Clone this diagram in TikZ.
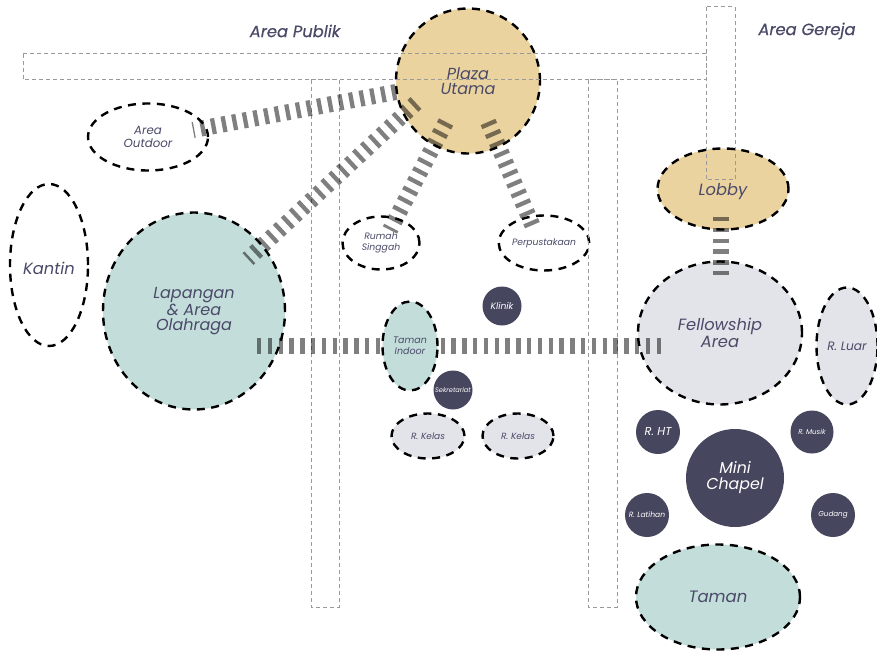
\documentclass[tikz,border=0pt]{standalone}
\usepackage{fontspec}
\setmainfont{Poppins}
\newfontfamily\titlefont{Poppins}[FakeBold=0.5]
\usetikzlibrary{shapes.geometric}
\definecolor{tanf}{HTML}{EBD3A0}
\definecolor{mint}{HTML}{C3DDDA}
\definecolor{lgray}{HTML}{E3E3EA}
\definecolor{navy}{HTML}{46465E}
\definecolor{txt}{HTML}{4A4A68}
\definecolor{rectgray}{HTML}{9A9A9A}
\tikzset{
  room/.style={ellipse, draw=black, line width=2.4pt, dash pattern=on 8pt off 6.5pt,
    inner sep=0pt, text=txt, align=center},
  darkroom/.style={circle, fill=navy, inner sep=0pt, text=white, align=center},
  zone/.style={draw=rectgray, line width=1pt, dash pattern=on 4pt off 3pt},
  conn/.style={draw=black, draw opacity=0.5, line width=16pt, dash pattern=on 4.3pt off 6.5pt},
  fs/.style 2 args={font=\fontsize{#1}{#2}\selectfont\itshape}
}
\begin{document}
\begin{tikzpicture}[x=1pt,y=-1pt]
\useasboundingbox (0,0) rectangle (877,652);
\fill[white] (0,0) rectangle (877,652);

% titles
\node[text=txt, font=\titlefont\fontsize{16.3}{17}\selectfont\itshape] (publik) at (295,31) {Area Publik};
\node[text=txt, font=\titlefont\fontsize{16.3}{17}\selectfont\itshape] (gereja) at (807,31) {Area Gereja};

% rooms (filled)
\node[room, fill=tanf, minimum width=144pt, minimum height=145pt, fs={16}{15}] (plaza) at (468,81) {Plaza\\Utama};
\node[room, minimum width=120pt, minimum height=67pt, fs={11.8}{13.5}] (outdoor) at (148,137) {Area\\Outdoor};
\node[room, minimum width=78pt, minimum height=162pt, fs={16.3}{17}, text height=18pt, text depth=0pt] (kantin) at (49,265) {Kantin};
\node[room, fill=mint, minimum width=182pt, minimum height=197pt, fs={16}{15}] (lapangan) at (194,311) {Lapangan\\\& Area\\Olahraga};
\node[room, minimum width=77pt, minimum height=53pt, fs={9.3}{11}] (rumah) at (381,243) {Rumah\\Singgah};
\node[room, minimum width=78pt, minimum height=55pt, fs={9.2}{11}] (perpus) at (544,243) {Perpustakaan};
\node[darkroom, minimum size=39pt, fs={9.2}{10}] (klinik) at (502,306) {Klinik};
\node[darkroom, minimum size=39pt, fs={6.6}{7}] (sekre) at (453,390) {Sekretariat};
\node[room, fill=lgray, minimum width=73pt, minimum height=45pt, fs={9}{10}] (kelas1) at (428,436) {R. Kelas};
\node[room, fill=lgray, minimum width=71pt, minimum height=45pt, fs={9}{10}] (kelas2) at (518,436) {R. Kelas};

\node[room, fill=tanf, minimum width=131pt, minimum height=81pt, fs={16.3}{17}, text height=18pt, text depth=4pt] (lobby) at (723,189) {Lobby};
\node[room, fill=lgray, minimum width=164pt, minimum height=143pt, fs={16.3}{15.5}] (fellow) at (720,333) {Fellowship\\Area};
\node[room, fill=lgray, minimum width=61pt, minimum height=117pt, fs={12.2}{13}] (luar) at (847,346) {R. Luar};
\node[darkroom, minimum size=44pt, fs={11.5}{12}] (rht) at (658,432) {R. HT};
\node[darkroom, minimum size=43pt, fs={7}{8}] (musik) at (812,432) {R. Musik};
\node[darkroom, minimum size=98pt, fs={15.8}{16}] (chapel) at (735,478) {Mini\\Chapel};
\node[darkroom, minimum size=44pt, fs={7.6}{8}] (latihan) at (647,515) {R. Latihan};
\node[darkroom, minimum size=44pt, fs={7.2}{8}] (gudang) at (833,515) {Gudang};
\node[room, fill=mint, minimum width=164pt, minimum height=105pt, fs={16.5}{17}] (taman) at (718,597) {Taman};

% zone rectangles
\draw[zone] (23,54) rectangle (706,80);
\draw[zone] (706,7) rectangle (735,180);
\draw[zone] (311,80) rectangle (339,607);
\draw[zone] (588,80) rectangle (617,607);

% connector end points
\coordinate (c1a) at (396,92);   \coordinate (c1b) at (193,130);
\coordinate (c2a) at (416,103);  \coordinate (c2b) at (248,259);
\coordinate (c3a) at (446,122);  \coordinate (c3b) at (390,230);
\coordinate (c4a) at (488,122);  \coordinate (c4b) at (534,229);
\coordinate (c5a) at (257,346);  \coordinate (c5b) at (666,346);
\coordinate (c6a) at (721,217);  \coordinate (c6b) at (721,279);

\draw[conn] (c1a) -- (c1b);
\draw[conn] (c2a) -- (c2b);
\draw[conn] (c3a) -- (c3b);
\draw[conn] (c4a) -- (c4b);
\draw[conn] (c5a) -- (c5b);
\draw[conn] (c6a) -- (c6b);

% Taman Indoor on top of the connector
\node[room, fill=mint, minimum width=55pt, minimum height=89pt, fs={9.5}{11}] (tindoor) at (410,346) {Taman\\Indoor};
\end{tikzpicture}
\end{document}
